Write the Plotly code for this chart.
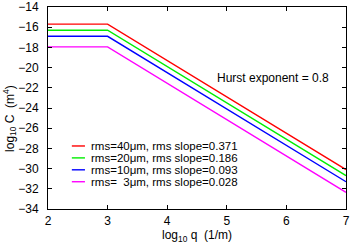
import plotly.graph_objects as go

log_q = [2, 3, 7]
C_rms40 = [-15.7, -15.7, -30.1]
C_rms20 = [-16.3, -16.3, -30.7]
C_rms10 = [-16.9, -16.9, -31.3]
C_rms3 = [-17.95, -17.95, -32.35]

series = [C_rms40, C_rms20, C_rms10, C_rms3]
labels = ["rms=40\u03bcm, rms slope=0.371",
          "rms=20\u03bcm, rms slope=0.186",
          "rms=10\u03bcm, rms slope=0.093",
          "rms=\u00a0\u00a03\u03bcm, rms slope=0.028"]
colors = ["#ff0000", "#00ee00", "#0000ff", "#ff00ff"]

x_ticks = [2, 3, 4, 5, 6, 7]
y_ticks = [-14, -16, -18, -20, -22, -24, -26, -28, -30, -32, -34]

FONT = "Liberation Sans, Arial, sans-serif"

fig = go.Figure()
for ys, name, c in zip(series, labels, colors):
    fig.add_trace(go.Scatter(x=log_q, y=ys, mode="lines", name=name,
                             line=dict(color=c, width=1.4), showlegend=False))

# custom compact legend
leg_y = [0.312, 0.253, 0.194, 0.135]
for yy, name, c in zip(leg_y, labels, colors):
    fig.add_shape(type="line", xref="paper", yref="paper",
                  x0=0.080, x1=0.124, y0=yy, y1=yy,
                  line=dict(color=c, width=1.4))
    fig.add_annotation(xref="paper", yref="paper", x=0.136, y=yy,
                       text=name, showarrow=False, xanchor="left", yanchor="middle",
                       font=dict(family=FONT, size=11.5, color="black"))

fig.add_annotation(xref="paper", yref="paper", x=0.755, y=0.649,
                   text="Hurst exponent = 0.8", showarrow=False,
                   xanchor="center", yanchor="middle",
                   font=dict(family=FONT, size=12, color="black"))

# y-axis title
fig.add_annotation(xref="paper", yref="paper", x=-0.128, y=0.45,
                   text="log<sub>10</sub> C  (m<sup>4</sup>)", showarrow=False,
                   textangle=-90, xanchor="center", yanchor="middle",
                   font=dict(family=FONT, size=12, color="black"))

axis_common = dict(showgrid=False, zeroline=False, showline=True, linecolor="black",
                   linewidth=1, mirror="ticks", ticks="inside", ticklen=4,
                   automargin=False, ticklabeloverflow="allow",
                   tickcolor="black", tickfont=dict(family=FONT, size=12, color="black"))

fig.update_xaxes(range=[2, 7], tickvals=x_ticks, ticklabelstandoff=1,
                 title=dict(text="log<sub>10</sub> q  (1/m)", standoff=2,
                            font=dict(family=FONT, size=12, color="black")),
                 **axis_common)
fig.update_yaxes(range=[-34, -14], tickvals=y_ticks, ticklabelstandoff=6,
                 **axis_common)

fig.update_layout(width=353, height=247, margin=dict(l=48, r=7, t=7, b=38),
                  plot_bgcolor="white", paper_bgcolor="white",
                  font=dict(family=FONT, color="black"))

fig.write_html("out.html", config={"displayModeBar": False},
               post_script="document.body.style.margin='0';document.body.style.overflow='hidden';")
